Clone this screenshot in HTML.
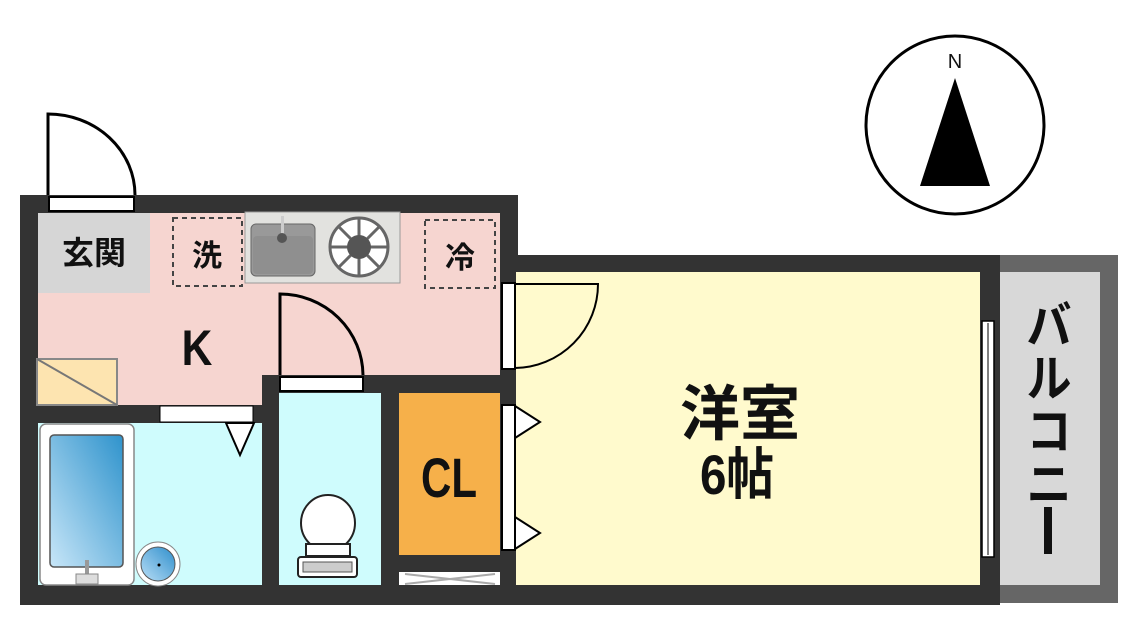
<!DOCTYPE html>
<html><head><meta charset="utf-8"><style>
body{margin:0;background:#fff;width:1139px;height:623px;overflow:hidden}
svg{display:block}
text{font-family:"Liberation Sans","Noto Sans CJK JP",sans-serif;font-weight:bold;fill:#111}
</style></head><body>
<svg width="1139" height="623" viewBox="0 0 1139 623" xmlns="http://www.w3.org/2000/svg">
<defs>
<linearGradient id="tub" x1="1" y1="0" x2="0" y2="1"><stop offset="0" stop-color="#2f93cc"/><stop offset="1" stop-color="#c8e6f8"/></linearGradient>
<linearGradient id="snk" x1="1" y1="0" x2="0" y2="1"><stop offset="0" stop-color="#2f8fcc"/><stop offset="1" stop-color="#b8def6"/></linearGradient>
</defs>
<rect x="20" y="195" width="498" height="410" fill="#333"/>
<rect x="500" y="255" width="500" height="350" fill="#333"/>
<rect x="1000" y="255" width="118" height="348" fill="#666"/>
<rect x="1000" y="272" width="100" height="313" fill="#d8d8d8"/>
<rect x="38" y="213" width="462" height="162" fill="#f6d5d0"/>
<rect x="38" y="375" width="224" height="30" fill="#f6d5d0"/>
<rect x="38" y="213" width="112" height="80" fill="#d6d6d6"/>
<text x="94" y="264" font-size="32" text-anchor="middle">玄関</text>
<rect x="173" y="218" width="69" height="68" fill="none" stroke="#444" stroke-width="2" stroke-dasharray="5,4"/>
<text x="207" y="266" font-size="30" text-anchor="middle">洗</text>
<rect x="245" y="212" width="155" height="71" fill="#e2e2df" stroke="#999" stroke-width="1"/>
<rect x="251" y="224" width="64" height="52" rx="5" fill="#999" stroke="#666"/>
<rect x="253" y="236" width="60" height="38" rx="4" fill="#8f8f8f"/>
<rect x="281" y="216" width="3" height="20" fill="#ccc"/>
<circle cx="282" cy="238" r="5" fill="#555"/>
<circle cx="359" cy="247" r="29" fill="#fff" stroke="#666" stroke-width="3"/>
<g stroke="#666" stroke-width="3"><line x1="330" y1="247" x2="388" y2="247"/><line x1="359" y1="218" x2="359" y2="276"/><line x1="338" y1="226" x2="380" y2="268"/><line x1="338" y1="268" x2="380" y2="226"/></g>
<circle cx="359" cy="247" r="12" fill="#555"/>
<rect x="425" y="220" width="70" height="68" fill="none" stroke="#444" stroke-width="2" stroke-dasharray="5,4"/>
<text x="460" y="268" font-size="30" text-anchor="middle">冷</text>
<text x="197" y="365" font-size="50" text-anchor="middle" transform="translate(197,0) scale(0.85,1) translate(-197,0)">K</text>
<rect x="37" y="359" width="80" height="46" fill="#fde4b0" stroke="#888" stroke-width="2"/>
<line x1="37" y1="359" x2="117" y2="405" stroke="#777" stroke-width="2"/>
<path d="M48,195 L48,114 A87,81 0 0 1 135,195" fill="#fff" stroke="#000" stroke-width="3"/>
<rect x="49" y="197" width="85" height="14" fill="#fff" stroke="#000" stroke-width="2"/>
<rect x="38" y="423" width="224" height="162" fill="#cffcfd"/>
<rect x="160" y="406" width="93" height="16" fill="#fff" stroke="#000" stroke-width="1"/>
<path d="M226,423 L254,423 L240,455 Z" fill="#fff" stroke="#000" stroke-width="2"/>
<rect x="40" y="424" width="94" height="161" rx="6" fill="#fff" stroke="#888" stroke-width="1.5"/>
<rect x="50" y="435" width="73" height="132" rx="4" fill="url(#tub)" stroke="#555" stroke-width="1.5"/>
<rect x="85" y="560" width="4" height="14" fill="#999"/>
<rect x="76" y="574" width="22" height="10" fill="#ddd" stroke="#888"/>
<circle cx="158" cy="564" r="22" fill="#fff" stroke="#888"/>
<circle cx="158" cy="564" r="17" fill="url(#snk)" stroke="#555"/>
<circle cx="159" cy="565" r="1.5" fill="#000"/>
<rect x="279" y="393" width="102" height="192" fill="#cffcfd"/>
<path d="M280,375 L280,294 A83,82 0 0 1 363,375" fill="none" stroke="#000" stroke-width="3"/>
<rect x="280" y="377" width="83" height="14" fill="#fff" stroke="#000" stroke-width="2"/>
<ellipse cx="328" cy="523" rx="27" ry="28" fill="#fff" stroke="#222" stroke-width="2"/>
<rect x="306" y="544" width="44" height="12" fill="#fff" stroke="#222" stroke-width="2"/>
<rect x="298" y="557" width="59" height="20" rx="3" fill="#fff" stroke="#222" stroke-width="2"/>
<rect x="303" y="562" width="49" height="10" fill="#ccc" stroke="#555"/>
<rect x="399" y="393" width="101" height="162" fill="#f6b04a"/>
<text x="449" y="497" font-size="56" text-anchor="middle" transform="translate(449,0) scale(0.75,1) translate(-449,0)">CL</text>
<rect x="399" y="572" width="101" height="13" fill="#fff"/>
<path d="M405,574 L495,584 M405,584 L495,574" stroke="#aaa" stroke-width="2"/>
<rect x="516" y="272" width="464" height="313" fill="#fffacd"/>
<rect x="502" y="283" width="13" height="86" fill="#fff" stroke="#000" stroke-width="2"/>
<path d="M515,284 L598,284 A84,84 0 0 1 515,368" fill="none" stroke="#000" stroke-width="2"/>
<rect x="502" y="405" width="13" height="145" fill="#fff" stroke="#000" stroke-width="2"/>
<path d="M515,406 L540,422 L515,438 Z M515,517 L540,533 L515,549 Z" fill="#fff" stroke="#000" stroke-width="2"/>
<rect x="982" y="321" width="12" height="236" fill="#fff" stroke="#000" stroke-width="1.5"/>
<line x1="988" y1="323" x2="988" y2="555" stroke="#000" stroke-width="1"/>
<text x="740" y="435" font-size="60" text-anchor="middle">洋室</text>
<text x="737" y="494" font-size="56" text-anchor="middle" transform="translate(737,0) scale(0.85,1) translate(-737,0)">6帖</text>
<g transform="translate(1049,0) scale(0.9,1) translate(-1049,0)">
<text font-size="50" text-anchor="middle"><tspan x="1049" y="343">バ</tspan><tspan x="1049" y="396">ル</tspan><tspan x="1049" y="449">コ</tspan><tspan x="1049" y="502">ニ</tspan></text>
</g>
<rect x="1044" y="507" width="8" height="47" fill="#111"/>
<circle cx="955" cy="125" r="89" fill="#fff" stroke="#000" stroke-width="3"/>
<text x="955" y="68" font-size="20" text-anchor="middle" style="font-weight:normal">N</text>
<path d="M955,78 L920,186 L990,186 Z" fill="#000"/>
</svg>
</body></html>
